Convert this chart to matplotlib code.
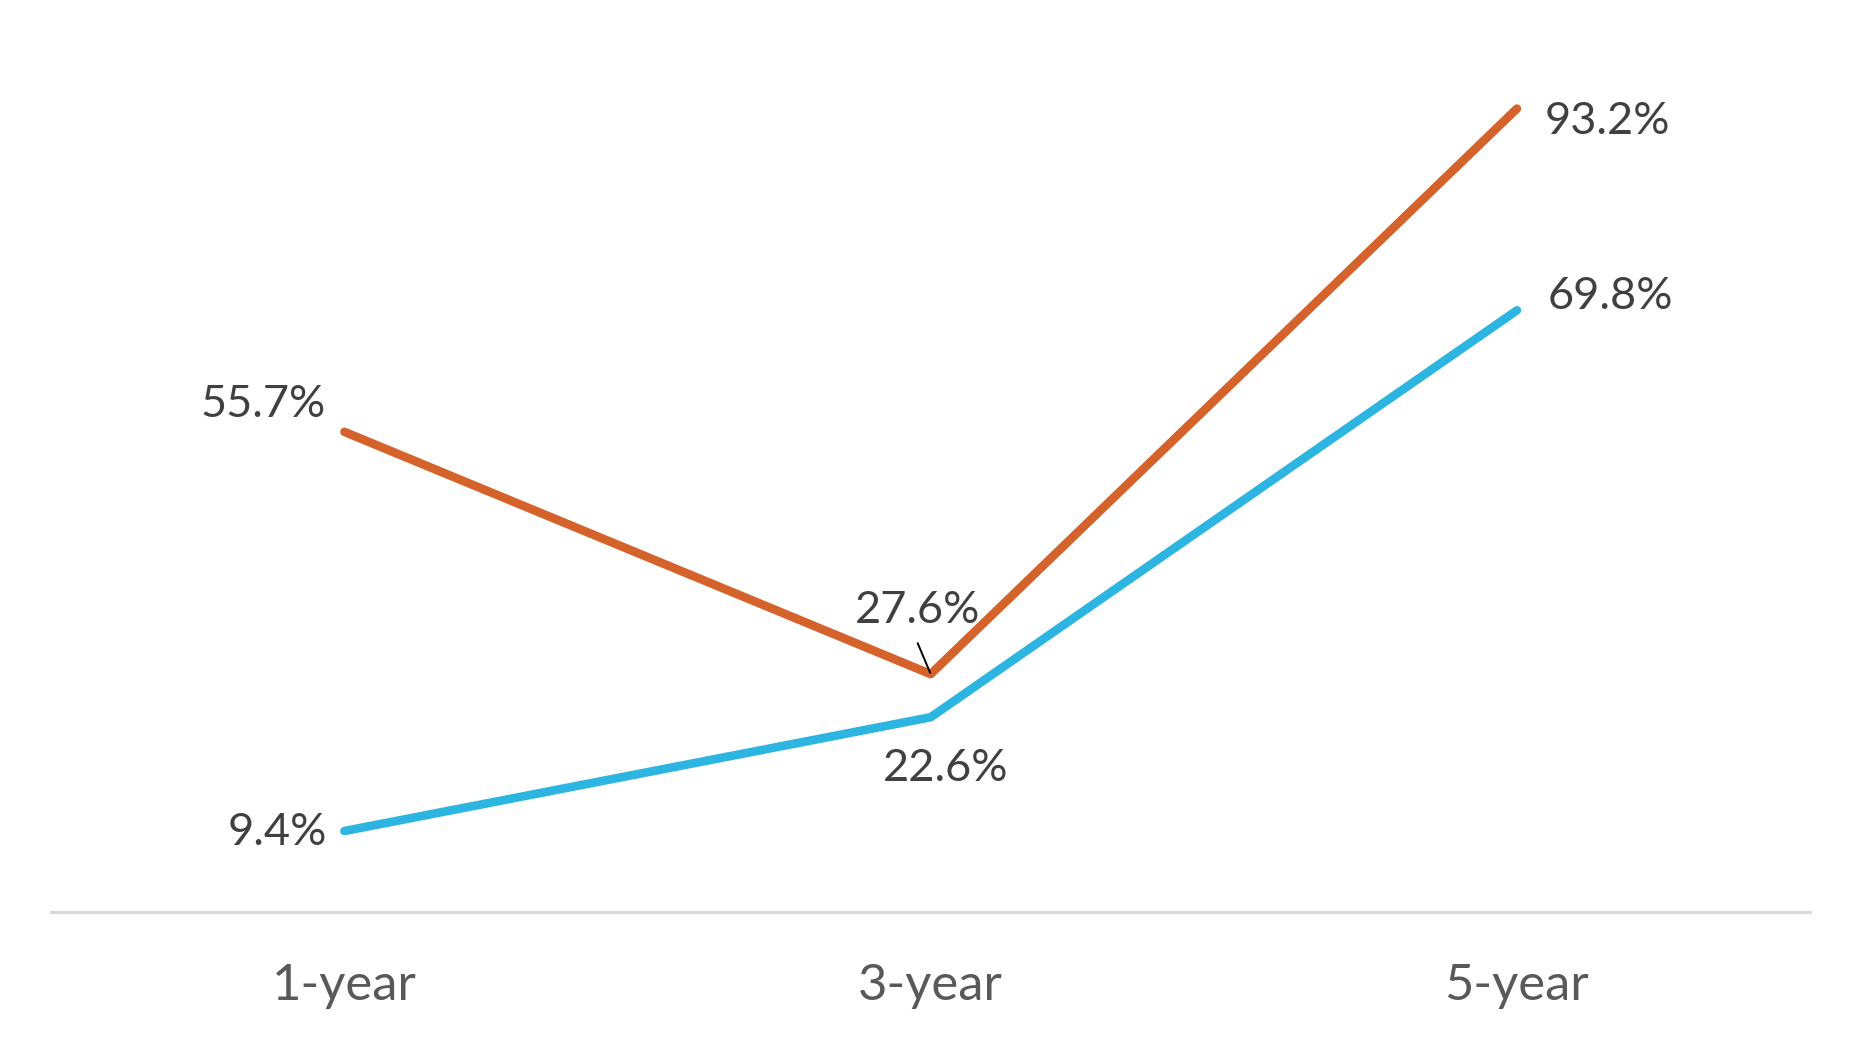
import matplotlib
matplotlib.use("Agg")
import matplotlib.pyplot as plt

# data
categories = ["1-year", "3-year", "5-year"]
series_orange = [55.7, 27.6, 93.2]
series_blue = [9.4, 22.6, 69.8]

orange = "#D5622B"
blue = "#2CB5E0"
label_color = "#404040"
tick_color = "#595959"

plt.rcParams["font.family"] = ["Lato", "DejaVu Sans"]

fig = plt.figure(figsize=(18.61, 10.44), dpi=100)
ax = fig.add_axes([0.0276, 0.1264, 0.945, 0.8257])

x = list(range(len(categories)))
ax.plot(x, series_orange, color=orange, lw=6.2, solid_capstyle="round",
        solid_joinstyle="round")
ax.plot(x, series_blue, color=blue, lw=6.2, solid_capstyle="round",
        solid_joinstyle="round")

ax.set_xlim(-0.5, 2.5)
ax.set_ylim(0, 100)

# label offsets in pixels (dx, dy, ha) per point
orange_offsets = [(-19, 15, "right"), (-13, 51, "center"), (28, -25, "left")]
blue_offsets = [(-17, -14, "right"), (15, -64, "center"), (31, 1, "left")]

for i, v in enumerate(series_orange):
    dx, dy, ha = orange_offsets[i]
    ax.annotate(f"{v:.1f}%", (x[i], v), xytext=(dx, dy),
                textcoords="offset pixels", ha=ha, va="baseline",
                fontsize=32.5, color=label_color)
for i, v in enumerate(series_blue):
    dx, dy, ha = blue_offsets[i]
    ax.annotate(f"{v:.1f}%", (x[i], v), xytext=(dx, dy),
                textcoords="offset pixels", ha=ha, va="baseline",
                fontsize=32.5, color=label_color)

# leader line for the 3-year orange label
ax.annotate("", (x[1], series_orange[1]), xytext=(-13, 31),
            textcoords="offset pixels",
            arrowprops=dict(arrowstyle="-", color="black", lw=1.4,
                            shrinkA=0, shrinkB=1))

for side in ["top", "left", "right"]:
    ax.spines[side].set_visible(False)
ax.spines["bottom"].set_color("#D9D9D9")
ax.spines["bottom"].set_linewidth(2.2)

ax.set_yticks([])
ax.set_xticks(x)
ax.set_xticklabels(categories, fontsize=36.5, color=tick_color)
ax.tick_params(axis="x", length=0, pad=37)

fig.savefig("out.png", dpi=100, facecolor="white")
